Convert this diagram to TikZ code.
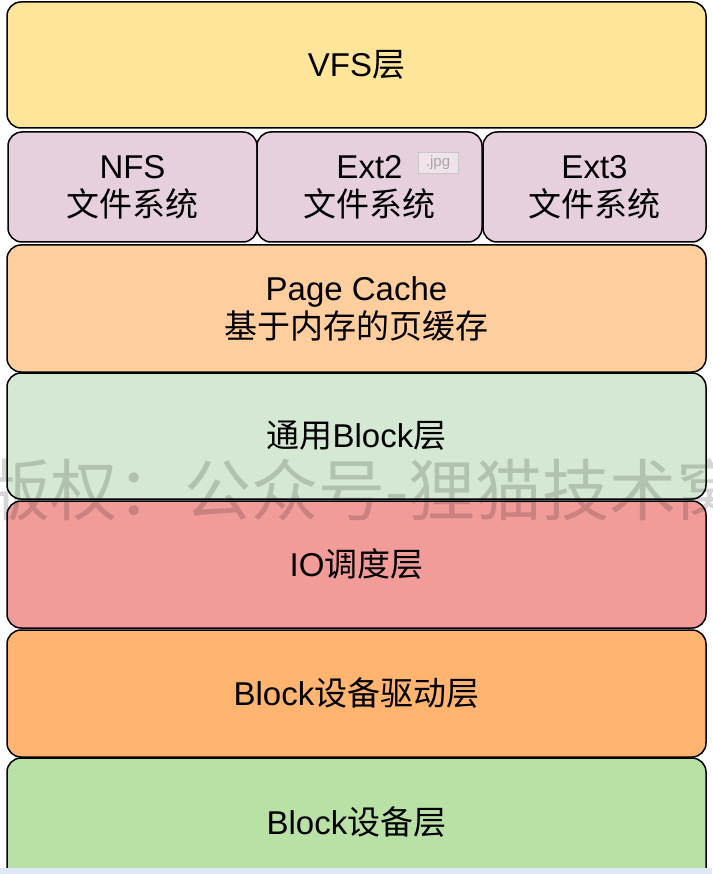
\documentclass[tikz,border=0pt]{standalone}
\usepackage{fontspec}
\setmainfont{Liberation Sans}
\newfontfamily\cjk{Noto Sans CJK SC}
\newcommand{\zh}[1]{{\cjk #1}}
\definecolor{vfsfill}{HTML}{FEE599}
\definecolor{fsfill}{HTML}{E6D0DE}
\definecolor{pcfill}{HTML}{FFCE9F}
\definecolor{gbfill}{HTML}{D5E8D4}
\definecolor{iofill}{HTML}{F19C99}
\definecolor{drvfill}{HTML}{FFB570}
\definecolor{devfill}{HTML}{B9E0A5}
\definecolor{bandfill}{HTML}{DEE9F8}
\begin{document}
\begin{tikzpicture}[x=1pt,y=-1pt,
  layer/.style={draw=black, line width=1.5pt, rounded corners=14pt,
    inner sep=0pt, align=center, font=\fontsize{33}{38}\selectfont},
]
\useasboundingbox (0,0) rectangle (712,874);
\begin{scope}
\clip (0,0) rectangle (712,874);
% stack of layers, top to bottom
\node[layer, fill=vfsfill, minimum width=699pt, minimum height=126pt] (vfs) at (356.5,65) {VFS\zh{层}};
\node[layer, fill=fsfill, minimum width=249pt, minimum height=110pt] (nfs) at (132.5,187) {NFS\\\zh{文件系统}};
\node[layer, fill=fsfill, minimum width=225pt, minimum height=110pt] (ext2) at (369.5,187) {Ext2\\\zh{文件系统}};
\node[layer, fill=fsfill, minimum width=223pt, minimum height=110pt] (ext3) at (594.5,187) {Ext3\\\zh{文件系统}};
\node[layer, fill=pcfill, minimum width=699pt, minimum height=127pt] (pc) at (356.5,308.5) {Page Cache\\\zh{基于内存的页缓存}};
\node[layer, fill=gbfill, minimum width=699pt, minimum height=126pt] (gb) at (356.5,436) {\zh{通用}Block\zh{层}};
\node[layer, fill=iofill, minimum width=699pt, minimum height=127pt] (io) at (356.5,564.5) {IO\zh{调度层}};
\node[layer, fill=drvfill, minimum width=699pt, minimum height=127pt] (drv) at (356.5,693.5) {Block\zh{设备驱动层}};
\node[layer, fill=devfill, minimum width=699pt, minimum height=128pt] (dev) at (356.5,822) {Block\zh{设备层}};
% small file-type tag
\node[draw=black!22, fill=white!40!fsfill, minimum width=40pt, minimum height=21pt, inner sep=0pt,
  text=black!35, font=\fontsize{15}{15}\selectfont] (tag) at (438,162.5) {.jpg};
% watermark
\node[anchor=west, inner sep=0pt, text=black, opacity=0.16, font=\cjk\fontsize{67}{67}\selectfont] (wm) at (-17,490) {版权：公众号-狸猫技术窝};
% bottom band
\fill[bandfill] (0,868) rectangle (712,874);
\end{scope}
\end{tikzpicture}
\end{document}
